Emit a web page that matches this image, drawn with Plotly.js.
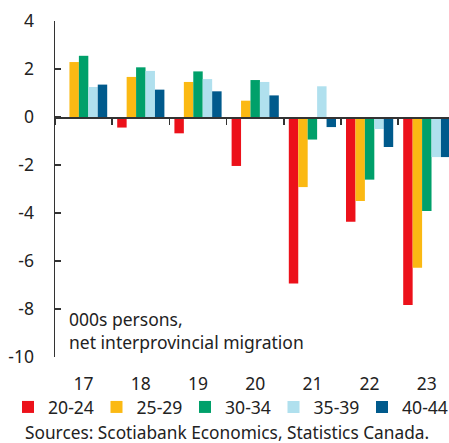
<!DOCTYPE html>
<html>
<head>
<meta charset="utf-8">
<script src="https://cdn.plot.ly/plotly-3.0.1.min.js"></script>
<style>
html,body{margin:0;padding:0;overflow:hidden;background:#fff;}
#chart{width:449px;height:443px;}
</style>
</head>
<body>
<div id="chart"></div>
<script>
// Categories (years)
const years = ['17', '18', '19', '20', '21', '22', '23'];
// Series: net interprovincial migration, 000s persons, by age group
const seriesNames = ['20-24', '25-29', '30-34', '35-39', '40-44'];
const age20_24 = [-0.05, -0.44, -0.68, -2.04, -6.94, -4.36, -7.83];
const age25_29 = [2.29, 1.67, 1.46, 0.68, -2.92, -3.50, -6.28];
const age30_34 = [2.55, 2.07, 1.90, 1.54, -0.94, -2.61, -3.92];
const age35_39 = [1.25, 1.92, 1.58, 1.46, 1.28, -0.50, -1.67];
const age40_44 = [1.35, 1.14, 1.07, 0.90, -0.42, -1.25, -1.67];
const yTicks = [4, 2, 0, -2, -4, -6, -8, -10];
const colors = ['#EC111A', '#FBB913', '#00A06A', '#B0E0EE', '#005A8C'];

const allSeries = [age20_24, age25_29, age30_34, age35_39, age40_44];
const FONT = 'Noto Sans, Open Sans, sans-serif';

// The legend row is wider than the plot area, so it is split over two legend boxes
const legendIds = ['legend', 'legend', 'legend', 'legend2', 'legend2'];

const traces = allSeries.map((vals, i) => ({
  type: 'bar',
  name: seriesNames[i],
  x: years,
  y: vals,
  legend: legendIds[i],
  marker: {color: colors[i], line: {width: 0}},
  hoverinfo: 'x+y+name'
}));

const ENTRY = 88.5;   // px between legend entries
const LEG_X0 = 8;     // px, start of first legend entry

function legendCfg(startPx) {
  return {
    orientation: 'h',
    xref: 'container', yref: 'container',
    x: startPx / 449, xanchor: 'left',
    y: 1 - 407 / 443, yanchor: 'middle',
    font: {family: FONT, size: 17.6, color: '#222'},
    entrywidth: ENTRY - 45, entrywidthmode: 'pixels',
    itemwidth: 30,
    traceorder: 'normal',
    borderwidth: 0,
    bgcolor: 'rgba(0,0,0,0)'
  };
}

const layout = {
  width: 449,
  height: 443,
  margin: {l: 55, r: 0, t: 21, b: 86, pad: 0},
  paper_bgcolor: '#fff',
  plot_bgcolor: '#fff',
  barmode: 'group',
  bargap: 0.175,
  bargroupgap: 0,
  font: {family: FONT, size: 16, color: '#222'},
  showlegend: true,
  legend: legendCfg(LEG_X0),
  legend2: legendCfg(LEG_X0 + 3 * ENTRY),
  xaxis: {
    type: 'category',
    categoryorder: 'array',
    categoryarray: years,
    range: [-0.5, 6.388],
    anchor: 'free',
    position: 10 / 14,
    showline: true,
    linecolor: '#333',
    linewidth: 1.5,
    ticks: 'outside',
    tickson: 'boundaries',
    ticklen: 6,
    tickwidth: 1.5,
    tickcolor: '#333',
    showgrid: false,
    zeroline: false,
    ticklabelstandoff: 250,
    tickfont: {family: FONT, size: 17.5, color: '#222'}
  },
  yaxis: {
    range: [-10, 4],
    tickmode: 'array',
    tickvals: yTicks,
    ticktext: yTicks.map(String),
    showline: true,
    linecolor: '#333',
    linewidth: 1.5,
    ticks: 'inside',
    ticklen: 6,
    tickwidth: 1.5,
    tickcolor: '#333',
    showgrid: false,
    zeroline: false,
    ticklabelstandoff: 16,
    tickfont: {family: FONT, size: 17.5, color: '#222'}
  },
  annotations: [
    {
      text: '000s persons,<br>net interprovincial migration',
      xref: 'paper', yref: 'paper',
      x: (67 - 55) / 394, y: (357 - 330) / 336,
      xanchor: 'left', yanchor: 'middle',
      align: 'left',
      showarrow: false,
      font: {family: FONT, size: 17.5, color: '#222'}
    },
    {
      text: 'Sources: Scotiabank Economics, Statistics Canada.',
      xref: 'paper', yref: 'paper',
      x: (23 - 55) / 394, y: (357 - 432) / 336,
      xanchor: 'left', yanchor: 'middle',
      showarrow: false,
      font: {family: FONT, size: 17.3, color: '#222'}
    }
  ]
};

Plotly.newPlot('chart', traces, layout, {displayModeBar: false, staticPlot: true});
</script>
</body>
</html>
